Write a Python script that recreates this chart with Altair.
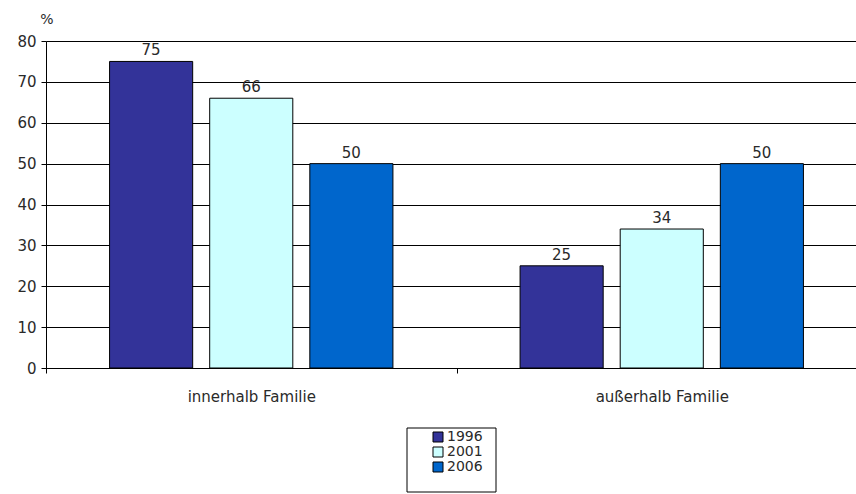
import altair as alt
import pandas as pd

categories = ["innerhalb Familie", "außerhalb Familie"]
years = ["1996", "2001", "2006"]
values_1996 = [75, 25]
values_2001 = [66, 34]
values_2006 = [50, 50]
colors = ["#333399", "#CCFFFF", "#0066CC"]

rows = []
for i, c in enumerate(categories):
    for y, vals in zip(years, [values_1996, values_2001, values_2006]):
        rows.append({"cat": c, "year": y, "value": vals[i]})
df = pd.DataFrame(rows)

FONT = "DejaVu Sans"
TXT = "#2a2a2a"

x = alt.X("cat:N", sort=categories, title=None,
          scale=alt.Scale(paddingInner=0, paddingOuter=0, range=[0, 821]),
          axis=alt.Axis(labelAngle=0, tickBand="extent", domainColor="#000", tickColor="#000",
                        labelFont=FONT, labelFontSize=15, labelColor=TXT, labelPadding=16,
                        tickSize=5))
xoff = alt.XOffset("year:N", sort=years,
                   scale=alt.Scale(paddingInner=0.17, paddingOuter=0.635))
y = alt.Y("value:Q", title=None,
          scale=alt.Scale(domain=[0, 80], nice=False),
          axis=alt.Axis(values=list(range(0, 81, 10)), gridColor="#000", gridOpacity=1,
                        domainColor="#000", tickColor="#000", tickSize=5,
                        labelFont=FONT, labelFontSize=15, labelColor=TXT, labelPadding=5))

base = alt.Chart(df)

frame = alt.Chart(pd.DataFrame({"k": [0]})).mark_rect(
    fill="#fff", stroke="#000", strokeWidth=1
).encode(x=alt.value(361), x2=alt.value(450), y=alt.value(387), y2=alt.value(451))

bars = base.mark_bar(stroke="#000", strokeWidth=1).encode(
    x=x, xOffset=xoff, y=y,
    color=alt.Color("year:N", sort=years, scale=alt.Scale(domain=years, range=colors),
                    legend=alt.Legend(title=None, orient="none", legendX=385, legendY=389,
                                      symbolType="square", symbolSize=100, symbolStrokeColor="#000",
                                      symbolStrokeWidth=1, labelFont=FONT, labelFontSize=14,
                                      labelColor=TXT, padding=0, rowPadding=1, labelOffset=2))
)

text = base.mark_text(dy=-11, font=FONT, fontSize=15, color=TXT).encode(
    x=x, xOffset=xoff, y=y, text="value:Q"
)

pct = alt.Chart(pd.DataFrame({"t": ["%"]})).mark_text(
    font=FONT, fontSize=14, color=TXT, align="center", baseline="middle"
).encode(x=alt.value(1), y=alt.value(-21), text="t:N")

chart = alt.layer(frame, bars, text, pct).properties(
    width=810, height=327,
    autosize=alt.AutoSizeParams(type="none"),
    padding={"left": 46, "top": 41, "right": 0, "bottom": 126},
).configure_view(stroke=None).configure_axis(grid=False).configure_axisY(grid=True)

chart.save("out.html", embed_options={"renderer": "svg", "actions": False})
